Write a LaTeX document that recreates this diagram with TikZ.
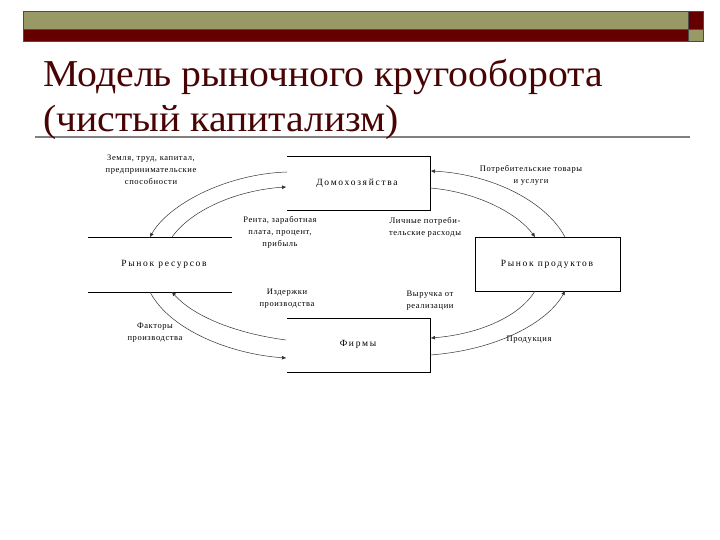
\documentclass[tikz,border=0pt]{standalone}
\usepackage{fontspec}
\setmainfont{Liberation Serif}
\newfontfamily\lblfont[LetterSpace=7]{Liberation Serif}
\newfontfamily\boxfont[LetterSpace=18]{Liberation Serif}
\usetikzlibrary{arrows.meta}
\definecolor{olive}{RGB}{153,153,102}
\definecolor{dred}{RGB}{102,0,0}
\definecolor{tred}{RGB}{72,4,4}
\begin{document}
\begin{tikzpicture}[x=1pt,y=-1pt,
  lbl/.style={font=\lblfont\fontsize{8.5}{12}\selectfont, align=center, inner sep=0pt},
  boxlbl/.style={font=\boxfont\fontsize{9.5}{11}\selectfont, inner sep=0pt},
  ttl/.style={anchor=base west, inner sep=0pt, text=tred, font=\fontsize{38}{40}\selectfont},
  flow/.style={draw=black!80, line width=0.5pt, -{Triangle[length=4pt,width=3.5pt]}},
  edge/.style={draw=black, line width=0.8pt}]
\useasboundingbox (0,0) rectangle (720,540);
\fill[white] (0,0) rectangle (720,540);
% header band
\fill[olive] (23,11) rectangle (688,29);
\fill[dred] (23,29) rectangle (688,41);
\fill[dred] (688,11) rectangle (703,29);
\fill[olive] (688,29) rectangle (703,41);
\draw[black!70, line width=0.5pt] (23,11) rectangle (703,41) (23,29) -- (703,29) (688,11) -- (688,41);
% title
\draw[gray, line width=2pt] (35,137) -- (690,137);
\node[ttl] (t1) at (43,87) {\scalebox{1.045}[1]{Модель рыночного кругооборота}};
\node[ttl] (t2) at (43,132) {\scalebox{1.045}[1]{(чистый капитализм)}};
% boxes
\draw[edge] (287,156) -- (430,156) -- (430,210) -- (287,210);
\node[boxlbl] (dom) at (357,183) {Домохозяйства};
\draw[edge] (88,237) -- (232,237) (88,292) -- (232,292);
\node[boxlbl] (rr) at (164,264) {Рынок ресурсов};
\draw[edge] (475,237) rectangle (620,291);
\node[boxlbl] (rp) at (547,264) {Рынок продуктов};
\draw[edge] (287,318) -- (430,318) -- (430,372) -- (287,372);
\node[boxlbl] (firm) at (358,344) {Фирмы};
% flows
\coordinate (d1) at (287,172); \coordinate (d2) at (286,187);
\coordinate (d3) at (431,171); \coordinate (d4) at (430,188);
\coordinate (r1) at (150,237); \coordinate (r2) at (172,237);
\coordinate (r3) at (172,292); \coordinate (r4) at (150,292);
\coordinate (p1) at (535,237); \coordinate (p2) at (565,237);
\coordinate (p3) at (535,291); \coordinate (p4) at (565,291);
\coordinate (f1) at (431,338); \coordinate (f2) at (430,355);
\coordinate (f3) at (286,340); \coordinate (f4) at (286,358);
\draw[flow] (d1) .. controls (225,174) and (168,205) .. (r1);
\draw[flow] (r2) .. controls (193,208) and (240,190) .. (d2);
\draw[flow] (p2) .. controls (545,200) and (490,174) .. (d3);
\draw[flow] (d4) .. controls (478,192) and (518,214) .. (p1);
\draw[flow] (p3) .. controls (520,316) and (480,334) .. (f1);
\draw[flow] (f2) .. controls (498,350) and (548,322) .. (p4);
\draw[flow] (f3) .. controls (240,334) and (195,318) .. (r3);
\draw[flow] (r4) .. controls (170,330) and (230,354) .. (f4);
% labels
\node[lbl] (l1) at (151,170) {Земля, труд, капитал,\\предпринимательские\\способности};
\node[lbl] (l2) at (280,232) {Рента, заработная\\плата, процент,\\прибыль};
\node[lbl] (l3) at (531,175) {Потребительские товары\\и услуги};
\node[lbl] (l4) at (425,227) {Личные потреби-\\тельские расходы};
\node[lbl] (l5) at (287,299) {Издержки\\производства};
\node[lbl] (l6) at (430,301) {Выручка от\\реализации};
\node[lbl] (l7) at (155,333) {Факторы\\производства};
\node[lbl] (l8) at (529,340) {Продукция};
\end{tikzpicture}
\end{document}
